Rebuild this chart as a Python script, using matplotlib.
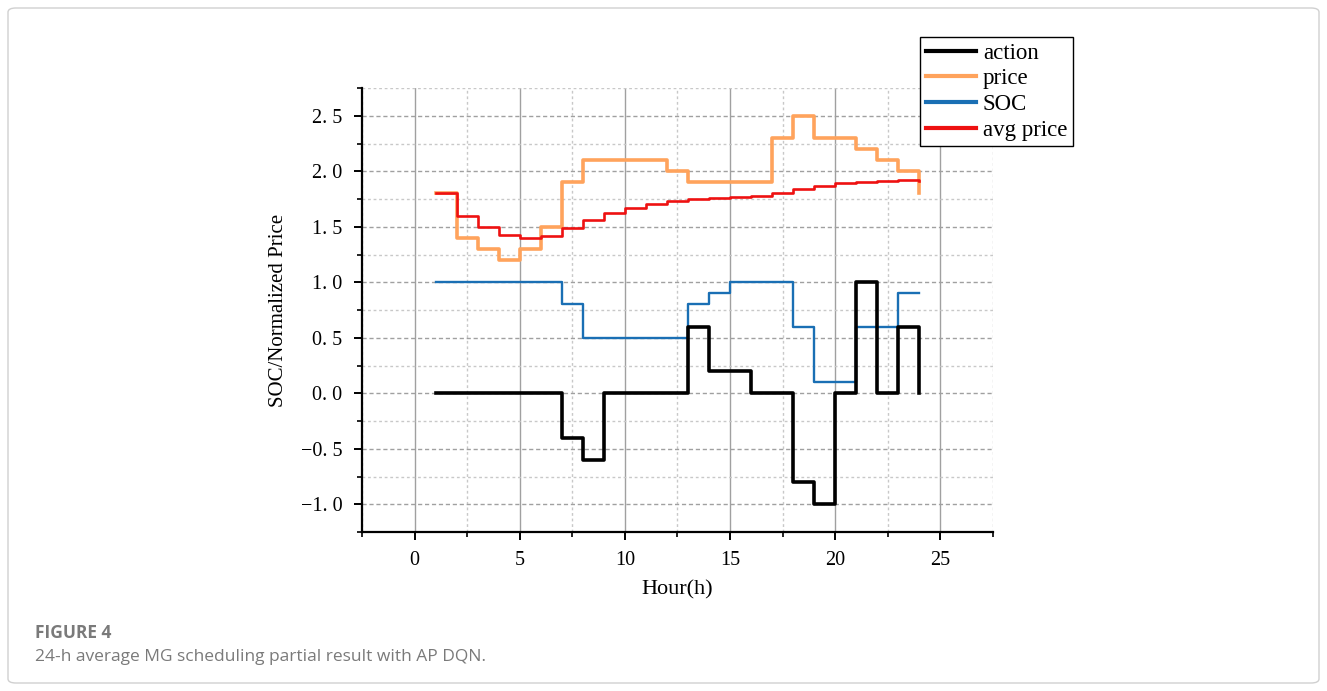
import matplotlib
matplotlib.use("Agg")
import matplotlib.pyplot as plt
from matplotlib.patches import FancyBboxPatch
from matplotlib.ticker import MultipleLocator, FuncFormatter

hours = list(range(1, 25))
action = [0, 0, 0, 0, 0, 0, -0.4, -0.6, 0, 0, 0, 0, 0.6, 0.2, 0.2, 0, 0, -0.8, -1.0, 0, 1.0, 0, 0.6, 0]
price = [1.8, 1.4, 1.3, 1.2, 1.3, 1.5, 1.9, 2.1, 2.1, 2.1, 2.1, 2.0, 1.9, 1.9, 1.9, 1.9,
         2.3, 2.5, 2.3, 2.3, 2.2, 2.1, 2.0, 1.8]
soc = [1.0, 1.0, 1.0, 1.0, 1.0, 1.0, 0.8, 0.5, 0.5, 0.5, 0.5, 0.5, 0.8, 0.9, 1.0, 1.0,
       1.0, 0.6, 0.1, 0.1, 0.6, 0.6, 0.9, 0.9]
avg_price = [1.8, 1.6, 1.5, 1.425, 1.4, 1.417, 1.486, 1.563, 1.622, 1.67, 1.709, 1.733,
             1.746, 1.757, 1.767, 1.775, 1.806, 1.844, 1.868, 1.89, 1.905, 1.914, 1.917, 1.913]

serif = ['Liberation Serif', 'DejaVu Serif']

fig = plt.figure(figsize=(13.27, 6.91), dpi=100)

# outer frame of the figure panel
frame = FancyBboxPatch((8 / 1327, 8 / 691), 1311 / 1327, 675 / 691,
                       boxstyle="round,pad=0,rounding_size=0.006",
                       transform=fig.transFigure, fill=False,
                       edgecolor='#d0d0d0', linewidth=1.0)
fig.patches.append(frame)

ax = fig.add_axes([0.2728, 0.2301, 0.4755, 0.6425])

ax.step(hours, action, where='post', color='black', lw=2.6, label='action', zorder=5)
ax.step(hours, price, where='post', color='#ffa35c', lw=2.6, label='price', zorder=3)
ax.step(hours, soc, where='post', color='#1a6fb4', lw=1.7, label='SOC', zorder=4)
ax.step(hours, avg_price, where='post', color='#ee1111', lw=1.9, label='avg price', zorder=4)

ax.set_xlim(-2.5, 27.5)
ax.set_ylim(-1.25, 2.75)

ax.xaxis.set_major_locator(MultipleLocator(5))
ax.xaxis.set_minor_locator(MultipleLocator(2.5))
ax.yaxis.set_major_locator(MultipleLocator(0.5))
ax.yaxis.set_minor_locator(MultipleLocator(0.25))

def yfmt(v, pos):
    s = '%.1f' % v
    s = s.replace('.', '. ').replace('-', '\u2212')
    return s

ax.yaxis.set_major_formatter(FuncFormatter(yfmt))

ax.grid(which='major', axis='x', color='#a0a0a0', lw=1.0, ls='-')
ax.grid(which='minor', axis='x', color='#c8c8c8', lw=1.0, ls=(0, (2, 2)))
ax.grid(which='major', axis='y', color='#a0a0a0', lw=1.0, ls=(0, (3, 2)))
ax.grid(which='minor', axis='y', color='#c8c8c8', lw=1.0, ls=(0, (2, 2)))
ax.set_axisbelow(True)

for side in ['top', 'right']:
    ax.spines[side].set_visible(False)
for side in ['left', 'bottom']:
    ax.spines[side].set_linewidth(1.6)

ax.tick_params(which='major', direction='out', length=6, width=1.4, labelsize=14.5, pad=8)
ax.tick_params(which='minor', direction='out', length=3.5, width=1.2)
for lab in ax.get_xticklabels() + ax.get_yticklabels():
    lab.set_fontfamily(serif)

ax.set_xlabel('Hour(h)', fontsize=16, family=serif, labelpad=7)
ax.set_ylabel('SOC/Normalized Price', fontsize=15, family=serif, labelpad=9)

leg = ax.legend(loc='upper right', bbox_to_anchor=(1073 / 1327, 1 - 37 / 691),
                bbox_transform=fig.transFigure, prop={'family': serif, 'size': 16.5},
                fancybox=False, framealpha=1, edgecolor='black', handlelength=2.2,
                labelspacing=0.2, borderpad=0.25, handletextpad=0.3, borderaxespad=0)
leg.get_frame().set_linewidth(1.0)
for line in leg.get_lines():
    line.set_linewidth(3.0)

fig.text(35 / 1327, 1 - 633 / 691, 'FIGURE 4', fontsize=12.5, fontweight='bold',
         color='#7a7a7a', family='Open Sans', va='center')
fig.text(35 / 1327, 1 - 657 / 691, '24-h average MG scheduling partial result with AP DQN.',
         fontsize=12.5, color='#7a7a7a', family='Open Sans', va='center')

fig.savefig('out.png', dpi=100)
